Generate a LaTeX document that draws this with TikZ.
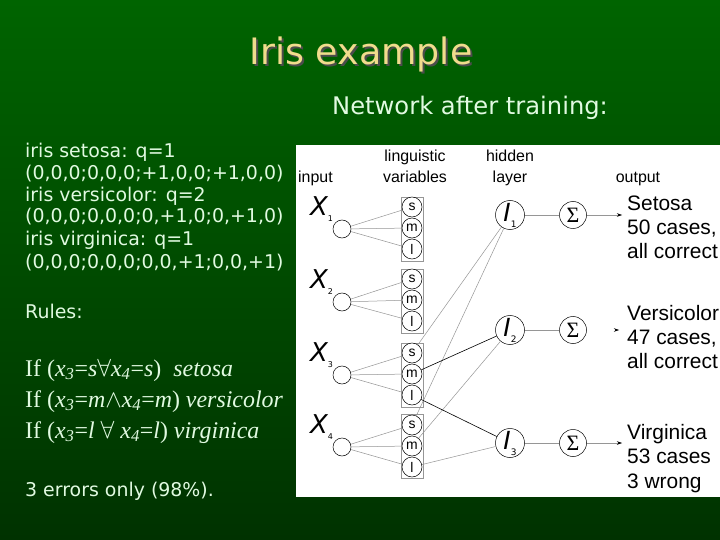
\documentclass[tikz,border=0pt]{standalone}
\usepackage{fontspec}
\setmainfont{DejaVu Sans}
\newfontfamily\netfont{Liberation Sans}
\newfontfamily\rulefont{Liberation Serif}
\usepackage{tikz}
\usetikzlibrary{positioning,calc}
\usetikzlibrary{arrows.meta}
\definecolor{BgTop}{RGB}{0,100,0}
\definecolor{BgBot}{RGB}{0,50,0}
\definecolor{TitleGold}{RGB}{240,220,140}
\definecolor{PaleText}{RGB}{225,250,225}
\definecolor{WireGray}{RGB}{150,150,150}
\newcommand{\fs}[1]{\fontsize{#1}{#1}\selectfont}
\newcommand{\xlab}[1]{{\fs{26}\itshape X}\raisebox{-6bp}{\fs{8}#1}}
\newcommand{\ilab}[1]{{\fs{25}\itshape I}\raisebox{-6bp}{\fs{9}#1}}
\newcommand{\shadowed}[1]{\makebox[0pt][l]{\hspace{2bp}\raisebox{-2bp}{\color{black!70}#1}}#1}
\tikzset{
	slide/.style={anchor=base west,inner sep=0pt,text=PaleText,font=\fs{19}},
	rule/.style={anchor=base west,inner sep=0pt,text=PaleText,font=\rulefont\fs{24}},
	head/.style={anchor=base,inner sep=0pt,font=\netfont\fs{16}},
	inp/.style={circle,draw=black,line width=0.5bp,minimum size=18bp,inner sep=0pt},
	ling/.style={circle,draw=black,line width=0.5bp,fill=white,minimum size=20bp,inner sep=0pt,font=\netfont\fs{14}},
	lbox/.style={draw=WireGray,line width=0.6bp,minimum width=22bp,minimum height=64bp,inner sep=0pt},
	hid/.style={circle,draw=black,line width=0.5bp,minimum size=29bp,inner sep=0pt},
	sig/.style={circle,draw=black,line width=0.5bp,minimum size=27bp,inner sep=0pt,font=\rulefont\fs{22}},
	wire/.style={draw=WireGray,line width=0.5bp},
	strong/.style={draw=black,line width=0.6bp},
	outarrow/.style={draw=WireGray,line width=0.5bp,-{Stealth[length=5bp,width=3.5bp,color=black]}},
	outtxt/.style={anchor=base west,inner sep=0pt,font=\netfont\fs{21}},
}
\begin{document}
\begin{tikzpicture}[x=1bp,y=-1bp]
	\useasboundingbox (0,0) rectangle (720,540);
	\shade[top color=BgTop,bottom color=BgBot] (0,0) rectangle (720,540);
	% title and slide text
	\node[text=TitleGold,font=\fs{36.5},inner sep=0pt] (title) at (361,55) {\shadowed{Iris example}};
	\node[slide,font=\fs{24.3}] (sub) at (332,115) {Network after training:};
	\node[slide] (c1) at (25,158) {iris setosa: q=1};
	\node[slide] (c2) at (25,180) {(0,0,0;0,0,0;+1,0,0;+1,0,0)};
	\node[slide] (c3) at (25,202) {iris versicolor: q=2};
	\node[slide] (c4) at (25,223) {(0,0,0;0,0,0;0,+1,0;0,+1,0)};
	\node[slide] (c5) at (25,246) {iris virginica: q=1};
	\node[slide] (c6) at (25,269) {(0,0,0;0,0,0;0,0,+1;0,0,+1)};
	\node[slide] (rules) at (25,318) {Rules:};
	\node[rule] (r1) at (25,376) {If (\textit{x}\textsubscript{\textit{3}}=\textit{s}$\forall$\textit{x}\textsubscript{\textit{4}}=\textit{s})\hspace{12bp}\textit{setosa}};
	\node[rule] (r2) at (25,407) {If (\textit{x}\textsubscript{\textit{3}}=\textit{m}$\wedge$\textit{x}\textsubscript{\textit{4}}=\textit{m}) \textit{versicolor}};
	\node[rule] (r3) at (25,438) {If (\textit{x}\textsubscript{\textit{3}}=\textit{l}\hspace{6bp}$\forall$ \textit{x}\textsubscript{\textit{4}}=\textit{l}) \textit{virginica}};
	\node[slide] (errs) at (25,496) {3 errors only (98\%).};
	% network panel
	\fill[white] (296,145) rectangle (720,497);
	\node[head,anchor=base west] (hin) at (298,183) {input};
	\node[head] (hling1) at (415,162) {linguistic};
	\node[head] (hling2) at (415,183) {variables};
	\node[head] (hhid1) at (510,162) {hidden};
	\node[head] (hhid2) at (510,183) {layer};
	\node[head] (hout) at (638,183) {output};
	\node[inp,label={[inner sep=0pt,xshift=-3bp]130:\xlab{1}}] (in1) at (342,229) {};
	\node[inp,label={[inner sep=0pt,xshift=-3bp]130:\xlab{2}}] (in2) at (342,302) {};
	\node[inp,label={[inner sep=0pt,xshift=-3bp]130:\xlab{3}}] (in3) at (342,375) {};
	\node[inp,label={[inner sep=0pt,xshift=-3bp]130:\xlab{4}}] (in4) at (342,447) {};
	\node[lbox] (b1) at (412,229) {};
	\node[lbox] (b2) at (412,301) {};
	\node[lbox] (b3) at (412,375) {};
	\node[lbox] (b4) at (412,446) {};
	\node[ling] (s1) at (412,207) {s};
	\node[ling] (m1) at (412,228) {m};
	\node[ling] (l1) at (412,249) {l};
	\node[ling] (s2) at (412,279) {s};
	\node[ling] (m2) at (412,300) {m};
	\node[ling] (l2) at (412,321) {l};
	\node[ling] (s3) at (412,353) {s};
	\node[ling] (m3) at (412,374) {m};
	\node[ling] (l3) at (412,395) {l};
	\node[ling] (s4) at (412,425) {s};
	\node[ling] (m4) at (412,446) {m};
	\node[ling] (l4) at (412,467) {l};
	\node[hid] (h1) at (510,215) {\ilab{1}};
	\node[hid] (h2) at (510,330) {\ilab{2}};
	\node[hid] (h3) at (510,443) {\ilab{3}};
	\node[sig] (g1) at (573,215) {Σ};
	\node[sig] (g2) at (573,330) {Σ};
	\node[sig] (g3) at (573,443) {Σ};
	\coordinate (o1) at (622,215);
	\coordinate (o2a) at (613,330);
	\coordinate (o2) at (619,330);
	\coordinate (o3) at (622,443);
	\draw[wire] (in1)--(s1); \draw[wire] (in1)--(m1); \draw[wire] (in1)--(l1);
	\draw[wire] (in2)--(s2); \draw[wire] (in2)--(m2); \draw[wire] (in2)--(l2);
	\draw[wire] (in3)--(s3); \draw[wire] (in3)--(m3); \draw[wire] (in3)--(l3);
	\draw[wire] (in4)--(s4); \draw[wire] (in4)--(m4); \draw[wire] (in4)--(l4);
	\draw[wire] (s3)--(h1);
	\draw[wire] (s4)--(h1);
	\draw[strong] (m3)--(h2);
	\draw[wire] (m4)--(h2);
	\draw[strong] (l3)--(h3);
	\draw[wire] (l4)--(h3);
	\draw[wire] (h1)--(g1);
	\draw[wire] (h2)--(g2);
	\draw[wire] (h3)--(g3);
	\draw[outarrow] (g1)--(o1);
	\draw[outarrow,draw=white] (o2a)--(o2);
	\draw[outarrow] (g3)--(o3);
	\node[outtxt] (t1) at (627,211) {Setosa};
	\node[outtxt] (t2) at (627,235) {50 cases,};
	\node[outtxt] (t3) at (627,259) {all correct};
	\node[outtxt] (t4) at (627,320) {Versicolor};
	\node[outtxt] (t5) at (627,344) {47 cases,};
	\node[outtxt] (t6) at (627,368) {all correct};
	\node[outtxt] (t7) at (627,439) {Virginica};
	\node[outtxt] (t8) at (627,463) {53 cases};
	\node[outtxt] (t9) at (627,488) {3 wrong};
\end{tikzpicture}
\end{document}
